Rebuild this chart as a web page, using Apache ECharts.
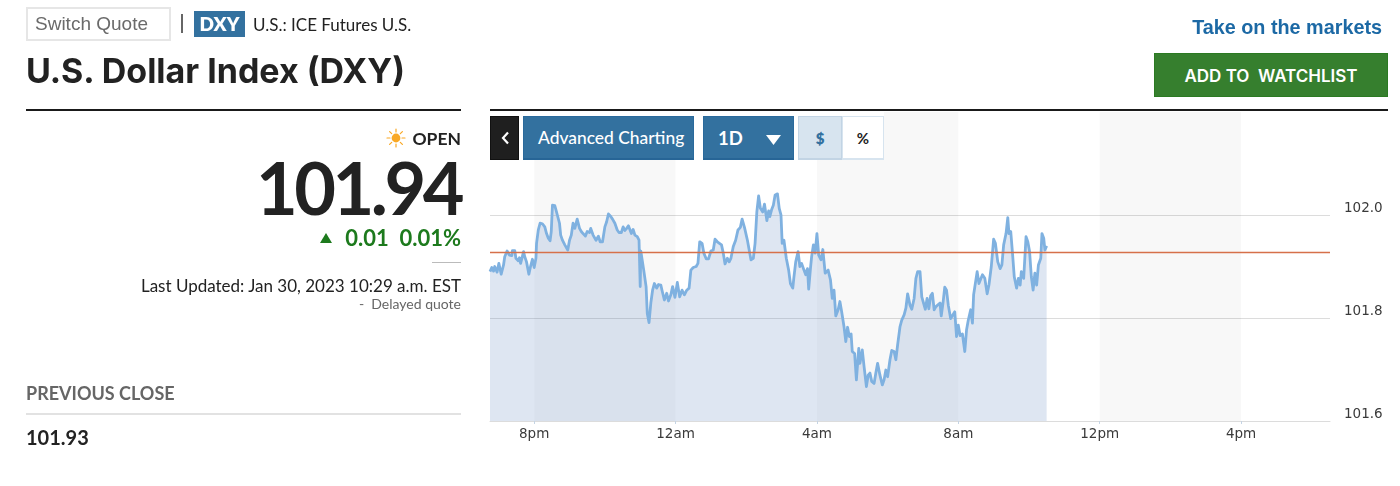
<!DOCTYPE html>
<html lang="en">
<head>
<meta charset="utf-8">
<title>U.S. Dollar Index (DXY)</title>
<script src="https://cdn.jsdelivr.net/npm/echarts@6/dist/echarts.min.js"></script>
<style>
  html, body { margin: 0; padding: 0; background: #fff; }
  #page { position: relative; width: 1400px; height: 486px; overflow: hidden; font-family: Lato, sans-serif; color: #222; }
  #chart { position: absolute; left: 0; top: 0; width: 1400px; height: 486px; }
  .abs { position: absolute; white-space: pre; line-height: 1; }
  .r { text-align: right; }
  .rule { position: absolute; }
  .btn { position: absolute; box-sizing: border-box; top: 116px; height: 44px; background: #33719f; border: 1px solid #2a6a9c; border-bottom: 2px solid #276596; color: #fff; display: flex; align-items: center; }
  #toolbar { position: absolute; left: 490px; top: 112px; width: 394px; height: 48px; background: #fff; }
</style>
</head>
<body>
<div id="page">
  <div id="chart"></div>

  <div class="abs" style="left:26px;top:7px;width:145px;height:34px;box-sizing:border-box;border:2px solid #e6e6e6;"></div>
  <div class="abs" style="left:35px;top:13px;font:19px 'Liberation Sans',sans-serif;color:#6a6a6a;">Switch Quote</div>
  <div class="rule" style="left:181px;top:14px;width:2px;height:19px;background:#666;"></div>
  <div class="abs" style="left:194px;top:11px;width:51px;height:26px;background:#33719f;color:#fff;font:800 19px Lato,sans-serif;line-height:26px;text-align:center;">DXY</div>
  <div class="abs" style="left:253px;top:16px;font-size:17px;color:#222;">U.S.: ICE Futures U.S.</div>
  <div class="abs" style="left:26px;top:50px;font:700 34px Inter,sans-serif;color:#222;">U.S. Dollar Index (DXY)</div>

  <div class="rule" style="left:26px;top:109px;width:435px;height:2px;background:#1a1a1a;"></div>
  <div class="rule" style="left:490px;top:109px;width:898px;height:2px;background:#1a1a1a;"></div>

  <svg class="abs" style="left:386px;top:128px;" width="20" height="20" viewBox="0 0 20 20">
    <circle cx="10" cy="10" r="4.4" fill="#f9a825"/>
    <g stroke="#f9a825" stroke-width="1.2" stroke-linecap="round">
      <path d="M10 1v3M10 16v3M1 10h3M16 10h3M3.6 3.6l2.1 2.1M14.3 14.3l2.1 2.1M3.6 16.4l2.1-2.1M14.3 5.7l2.1-2.1"/>
    </g>
  </svg>
  <div class="abs r" style="right:939px;top:130px;font-size:17.5px;font-weight:700;">OPEN</div>
  <div class="abs r" style="right:939px;top:151px;font-size:72px;font-weight:700;letter-spacing:-3.5px;color:#222;" id="last"></div>
  <div class="abs" style="left:320px;top:233px;width:0;height:0;border-left:6.5px solid transparent;border-right:6.5px solid transparent;border-bottom:10px solid #1d7a1d;"></div>
  <div class="abs r" style="right:939px;top:227px;font-size:22px;font-weight:700;color:#1d7a1d;">0.01  0.01%</div>
  <div class="rule" style="left:432px;top:262px;width:29px;height:1px;background:#bbb;"></div>
  <div class="abs r" style="right:939px;top:277px;font-size:17px;color:#222;">Last Updated: Jan 30, 2023 10:29 a.m. EST</div>
  <div class="abs r" style="right:939px;top:297px;font-size:14px;color:#666;">-  Delayed quote</div>
  <div class="abs" style="left:26px;top:384px;font-size:18px;font-weight:700;color:#666;">PREVIOUS CLOSE</div>
  <div class="rule" style="left:26px;top:413px;width:435px;height:2px;background:#e2e2e2;"></div>
  <div class="abs" style="left:26px;top:427px;font-size:20px;font-weight:700;color:#222;" id="prev"></div>

  <div id="toolbar"></div>
  <div class="btn" style="left:490px;width:29px;background:#1f1f1f;border:1px solid #111;justify-content:center;">
    <svg width="12" height="16" viewBox="0 0 12 16"><path d="M9 2.5L4 8l5 5.5" fill="none" stroke="#fff" stroke-width="2.2"/></svg>
  </div>
  <div class="btn" style="left:523px;width:171px;padding-left:14px;font-size:17.4px;font-weight:500;">Advanced Charting</div>
  <div class="btn" style="left:703px;width:91px;font-size:18.5px;font-weight:700;padding-left:14px;">1D
    <svg style="position:absolute;left:62px;top:18px;" width="15" height="10" viewBox="0 0 15 10"><path d="M0 0h15L7.5 10z" fill="#fff"/></svg>
  </div>
  <div class="btn" style="left:798px;width:44px;background:#d7e4ef;border:1px solid #c2d4e4;border-bottom:2px solid #c2d4e4;color:#33719f;justify-content:center;font-size:15px;font-weight:800;">$</div>
  <div class="btn" style="left:842px;width:42px;background:#fff;border:1px solid #d7e4ef;border-bottom:2px solid #d7e4ef;color:#222;justify-content:center;font-size:15px;font-weight:700;">%</div>

  <div class="abs r" style="right:18px;top:16px;font:700 19.8px 'Liberation Sans',sans-serif;color:#1c69a5;">Take on the markets</div>
  <div class="abs" style="left:1154px;top:53px;width:234px;height:44px;box-sizing:border-box;background:#367f2e;border:1px solid #2b7a22;color:#fff;font:600 17px Inter,sans-serif;line-height:44px;text-align:center;">ADD TO  WATCHLIST</div>
</div>

<script>
// Minutes after 6:45 p.m. on the previous session day
const minutes = [
  0,3,6,8,12,15,19,23,25,29,33,37,38,42,44,48,50,52,57,59,62,66,69,72,75,78,79,82,85,89,93,96,99,102,104,106,110,112,115,118,
  120,123,127,132,135,138,141,144,148,152,155,158,162,165,169,171,175,180,184,187,191,195,198,201,205,208,212,216,219,223,226,229,232,235,
  238,240,243,246,250,253,255,256,259,261,265,267,270,273,276,279,283,286,290,292,296,300,303,307,310,314,318,322,326,330,334,338,
  341,345,350,353,356,360,363,367,371,375,379,382,386,389,393,396,399,403,406,409,413,417,421,425,428,432,434,437,440,443,447,450,453,456,459,463,466,470,473,
  475,478,481,484,488,491,494,496,499,502,503,507,510,514,516,519,523,526,529,533,536,539,541,544,546,549,552,555,558,562,565,569,574,578,581,584,587,591,594,597,
  601,604,607,610,613,615,619,622,626,628,632,635,639,642,645,648,652,655,658,662,666,669,672,675,679,682,686,689,692,696,699,703,706,709,
  713,716,720,723,726,730,733,736,739,742,745,748,751,754,757,760,764,766,769,772,775,778,782,785,789,792,795,798,802,806,809,812,816,819,
  821,824,827,830,833,836,840,844,847,851,855,858,862,866,869,872,876,879,881,884,887,890,894,897,900,902,906,910,913,916,919,922,925,928,931,935,937,940,942,945
];

// DXY quote at each of those minutes
const quotes = [
  101.890,101.898,101.891,101.900,101.889,101.906,101.885,101.903,101.919,101.930,101.922,101.921,101.931,101.931,101.916,101.911,101.917,101.906,101.929,101.919,101.909,101.885,101.901,101.914,101.898,101.916,101.945,101.971,101.984,101.983,101.977,101.964,101.955,101.950,101.968,102.019,102.018,102.010,102.013,101.984,
  101.961,101.951,101.942,101.932,101.951,101.961,101.984,101.974,101.992,101.974,101.968,101.964,101.959,101.968,101.966,101.974,101.961,101.951,101.959,101.948,101.948,101.977,101.987,102.002,101.997,101.992,101.984,101.971,101.966,101.966,101.977,101.970,101.974,101.979,
  101.979,101.964,101.972,101.961,101.958,101.951,101.861,101.930,101.929,101.893,101.861,101.809,101.791,101.829,101.854,101.867,101.858,101.865,101.864,101.854,101.835,101.848,101.833,101.845,101.861,101.840,101.869,101.841,101.854,101.845,101.854,101.858,
  101.893,101.898,101.900,101.906,101.948,101.945,101.926,101.915,101.915,101.930,101.932,101.953,101.948,101.951,101.942,101.926,101.905,101.916,101.909,101.916,101.939,101.951,101.971,101.976,101.992,101.976,101.977,101.951,101.932,101.913,101.916,101.945,102.006,102.037,102.013,102.006,102.021,101.989,102.008,
  101.997,102.010,102.019,102.039,102.041,102.013,102.000,101.945,101.951,101.951,101.916,101.893,101.867,101.858,101.880,101.909,101.929,101.900,101.906,101.893,101.884,101.896,101.856,101.896,101.919,101.942,101.926,101.964,101.922,101.913,101.933,101.887,101.893,101.874,101.838,101.854,101.804,101.816,101.832,101.812,
  101.783,101.754,101.782,101.764,101.769,101.735,101.731,101.680,101.741,101.712,101.738,101.706,101.667,101.689,101.693,101.677,101.673,101.693,101.712,101.689,101.670,101.680,101.699,101.686,101.719,101.737,101.735,101.719,101.748,101.783,101.796,101.806,101.819,101.847,
  101.825,101.817,101.838,101.877,101.890,101.890,101.841,101.841,101.817,101.838,101.818,101.843,101.848,101.816,101.822,101.825,101.829,101.804,101.829,101.860,101.854,101.825,101.799,101.796,101.812,101.764,101.786,101.766,101.769,101.735,101.777,101.796,101.816,101.790,
  101.845,101.848,101.890,101.867,101.864,101.884,101.877,101.847,101.864,101.900,101.953,101.945,101.909,101.896,101.903,101.942,101.964,101.995,101.964,101.968,101.926,101.880,101.858,101.877,101.864,101.890,101.877,101.958,101.948,101.929,101.880,101.854,101.887,101.864,101.903,101.916,101.964,101.955,101.932,101.940
];

const tickMinutes = [75, 315, 555, 795, 1035, 1275];
const tickLabels = ['8pm', '12am', '4am', '8am', '12pm', '4pm'];
const sessionBands = [[75, 315], [555, 795], [1035, 1275]];
const axisEnd = 1426;
const priceMin = 101.6;
const priceMax = 102.2;
const priceStep = 0.2;
const previousClose = 101.927;

document.getElementById('last').textContent = quotes[quotes.length - 1].toFixed(2);
document.getElementById('prev').textContent = previousClose.toFixed(2);

const axisFont = "'DejaVu Sans', sans-serif";
const chart = echarts.init(document.getElementById('chart'), null, { renderer: 'canvas' });
chart.setOption({
  animation: false,
  backgroundColor: 'transparent',
  grid: { left: 490, right: 70, top: 112, bottom: 65 },
  xAxis: {
    type: 'value',
    min: 0,
    max: axisEnd,
    axisLine: { show: true, lineStyle: { color: '#dcdcdc', width: 1 } },
    axisTick: { show: true, length: 3, lineStyle: { color: '#c5d4e4' }, customValues: tickMinutes },
    splitLine: { show: false },
    axisLabel: {
      customValues: tickMinutes,
      margin: 6,
      color: '#3a3a3a',
      fontFamily: axisFont,
      fontSize: 13.5,
      formatter: (v) => tickLabels[tickMinutes.indexOf(v)]
    }
  },
  yAxis: {
    type: 'value',
    position: 'right',
    min: priceMin,
    max: priceMax,
    interval: priceStep,
    axisLine: { show: false },
    axisTick: { show: false },
    splitLine: { show: true, showMaxLine: false, lineStyle: { color: '#dcdcdc', width: 1 } },
    axisLabel: {
      showMaxLabel: false,
      margin: 14,
      verticalAlign: 'bottom',
      color: '#3a3a3a',
      fontFamily: axisFont,
      fontSize: 13.5,
      formatter: (v) => v.toFixed(1)
    }
  },
  series: [
    {
      name: 'Overnight bands',
      type: 'line',
      data: [],
      z: 1,
      silent: true,
      markArea: {
        silent: true,
        itemStyle: { color: 'rgba(0,0,0,0.028)' },
        data: sessionBands.map(([a, b]) => [{ xAxis: a }, { xAxis: b }])
      }
    },
    {
      name: 'DXY',
      type: 'line',
      z: 2,
      showSymbol: false,
      smooth: false,
      data: minutes.map((m, i) => [m, quotes[i]]),
      lineStyle: { color: '#7fb1e0', width: 2.8, join: 'round' },
      areaStyle: { color: 'rgba(105,140,195,0.22)', opacity: 1 }
    },
    {
      name: 'Previous close',
      type: 'line',
      z: 3,
      silent: true,
      showSymbol: false,
      data: [[0, previousClose], [axisEnd, previousClose]],
      lineStyle: { color: '#d6704a', width: 1.5 }
    }
  ]
});
</script>
</body>
</html>
